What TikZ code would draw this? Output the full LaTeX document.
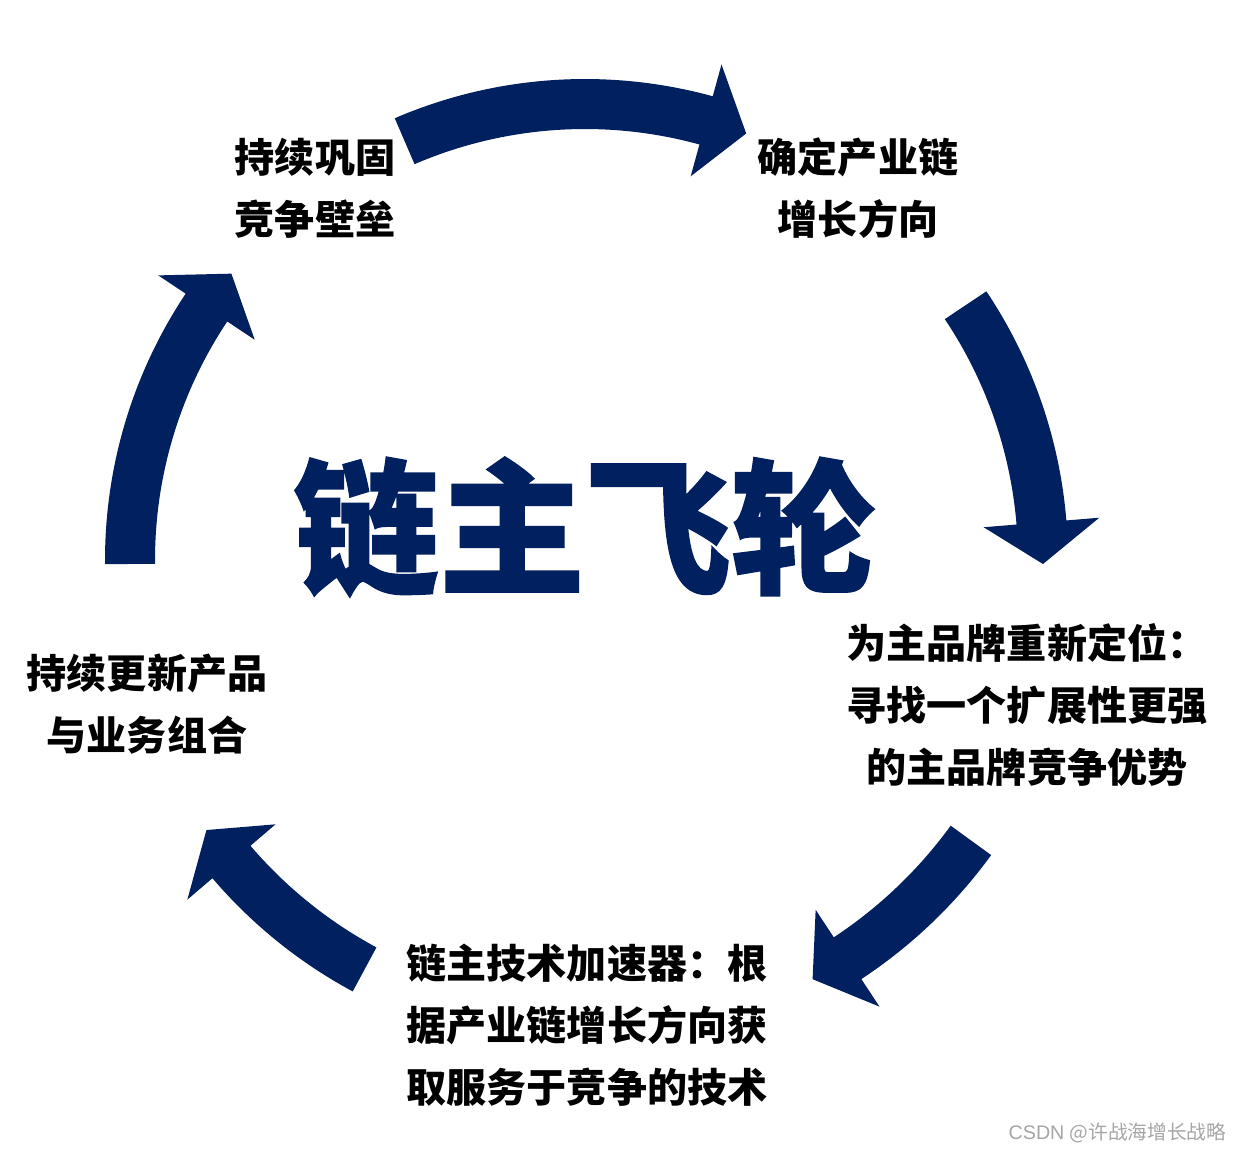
\documentclass[tikz,border=0pt]{standalone}
\usepackage{fontspec}
\usepackage{xcolor}
\usepackage{tikz}
\newfontfamily\cjk{Noto Sans CJK SC}
\newfontfamily\cjkheavy{Noto Sans CJK SC}[BoldFeatures={FakeBold=1.2}]
\setsansfont{Liberation Sans}
\definecolor{flyblue}{HTML}{002060}

\begin{document}
\begin{tikzpicture}[
    blade/.style={fill=flyblue},
    lbl/.style={align=center, inner sep=0pt, font=\cjk\bfseries\fontsize{11.4}{17.6}\selectfont}]
  \useasboundingbox[fill=white] (0,0) rectangle (12.42,-11.52);
  % the five curved arrows round the wheel
  \begin{scope}[shift={(5.85,-5.60)}]
    \foreach \a/\b/\t/\r in {113.3/74.6/69.3/4.56, 33.8/4.7/-0.5/4.58,
        -36/-56.6/-61.5/4.77, 241.7/220.5/215.5/4.65, 180.5/146.3/141/4.55}
      \fill[blade] (\a:{\r+0.25}) arc[start angle=\a, end angle=\b, radius={\r+0.25}]
        -- (\b:{\r+0.58}) -- (\t:\r) -- (\b:{\r-0.58}) -- (\b:{\r-0.25})
        arc[start angle=\b, end angle=\a, radius={\r-0.25}] -- cycle;
  \end{scope}
  \node (title) at (5.85,-5.27) [inner sep=0pt, text=flyblue,
    font=\cjkheavy\bfseries\fontsize{41.5}{45}\selectfont] {链主飞轮};
  \node[lbl] (moat) at (3.15,-1.88) {持续巩固\\竞争壁垒};
  \node[lbl] (direction) at (8.58,-1.88) {确定产业链\\增长方向};
  \node[lbl] (brand) at (10.27,-7.05) {为主品牌重新定位：\\寻找一个扩展性更强\\的主品牌竞争优势};
  \node[lbl] (tech) at (5.87,-10.25) {链主技术加速器：根\\据产业链增长方向获\\取服务于竞争的技术};
  \node[lbl] (renew) at (1.47,-7.04) {持续更新产品\\与业务组合};
  \node (mark) at (12.27,-11.33) [anchor=east, inner sep=0pt, text=black!35,
    font=\cjk\fontsize{5.6}{6}\selectfont] {\sffamily CSDN \cjk @许战海增长战略};
\end{tikzpicture}
\end{document}
